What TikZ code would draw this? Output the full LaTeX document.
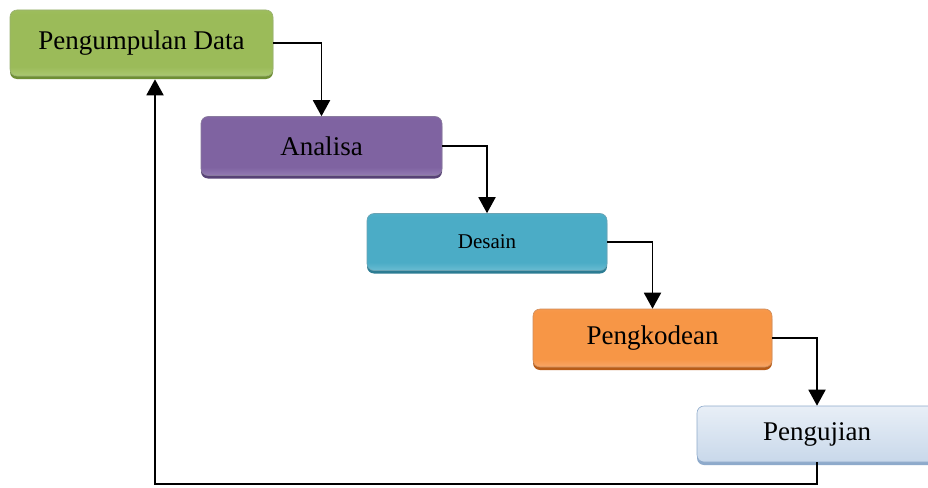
\documentclass[tikz,border=0pt]{standalone}
\usepackage{fontspec}
\setmainfont{Liberation Serif}
\usetikzlibrary{arrows.meta,shadows}
\definecolor{gTop}{HTML}{B4D07E}\definecolor{gMid}{HTML}{9BBB59}\definecolor{gBot}{HTML}{BCD68A}\definecolor{gRim}{HTML}{6F8F35}
\definecolor{pTop}{HTML}{9C86BA}\definecolor{pMid}{HTML}{7F63A1}\definecolor{pBot}{HTML}{A893C4}\definecolor{pRim}{HTML}{574275}
\definecolor{tTop}{HTML}{7CC6DA}\definecolor{tMid}{HTML}{4BACC6}\definecolor{tBot}{HTML}{88CCDE}\definecolor{tRim}{HTML}{2C7C93}
\definecolor{oTop}{HTML}{F9B07C}\definecolor{oMid}{HTML}{F79646}\definecolor{oBot}{HTML}{FAB688}\definecolor{oRim}{HTML}{B85C18}
\definecolor{bTop}{HTML}{F8FAFD}\definecolor{bMid}{HTML}{D2DFEE}\definecolor{bBot}{HTML}{B8CCE4}\definecolor{bRim}{HTML}{8EAACB}
\pgfdeclareverticalshading[shTop,shMid,shBot]{officefill}{100bp}{%
  color(0bp)=(shMid); color(6bp)=(shBot); color(18bp)=(shBot); color(32bp)=(shMid);
  color(72bp)=(shMid); color(100bp)=(shTop)}
\pgfdeclareverticalshading[shTop,shMid,shBot]{softfill}{100bp}{%
  color(0bp)=(shBot); color(40bp)=(shMid); color(100bp)=(shTop)}
\tikzset{
  boxbase/.style={rectangle, rounded corners=7pt, text=black, inner sep=0pt,
    font=\fontsize{27}{30}\selectfont, line width=0.6pt},
  phase/.style n args={4}{boxbase, draw=#4!70,
    /utils/exec={\colorlet{shTop}{#1}\colorlet{shMid}{#2}\colorlet{shBot}{#3}},
    shading=officefill,
    drop shadow={shadow xshift=0pt, shadow yshift=-3pt, fill=#4, opacity=1}},
  softphase/.style n args={4}{boxbase, draw=#4,
    /utils/exec={\colorlet{shTop}{#1}\colorlet{shMid}{#2}\colorlet{shBot}{#3}},
    shading=softfill,
    drop shadow={shadow xshift=0pt, shadow yshift=-3pt, fill=#4, opacity=1}},
  arr/.style={line width=1.9pt, -{Triangle[width=17pt,length=16pt]}}
}
\begin{document}
\begin{tikzpicture}[x=1pt,y=-1pt]
\path[use as bounding box, clip] (0,0) rectangle (928,487);
\fill[white] (0,0) rectangle (928,487);
\node[phase={gTop}{gMid}{gBot}{gRim}, minimum width=263pt, minimum height=66pt] (n1) at (141.5,43) {Pengumpulan Data};
\node[phase={pTop}{pMid}{pBot}{pRim}, minimum width=241pt, minimum height=59pt] (n2) at (321.5,146) {Analisa};
\node[phase={tTop}{tMid}{tBot}{tRim}, minimum width=240pt, minimum height=57pt, font=\fontsize{21}{25}\selectfont] (n3) at (487,242) {Desain};
\node[phase={oTop}{oMid}{oBot}{oRim}, minimum width=239pt, minimum height=58pt] (n4) at (652.5,338) {Pengkodean};
\node[softphase={bTop}{bMid}{bBot}{bRim}, minimum width=240pt, minimum height=56pt] (n5) at (817,434) {Pengujian};
\draw[arr] (n1.east) -| (n2.north);
\draw[arr] (n2.east) -| (n3.north);
\draw[arr] (n3.east) -| (n4.north);
\draw[arr] (n4.east) -| (n5.north);
\coordinate (c) at (155,484);
\draw[arr] (n5.south) |- (c) -- ([yshift=-3pt]c |- n1.south);
\end{tikzpicture}
\end{document}
